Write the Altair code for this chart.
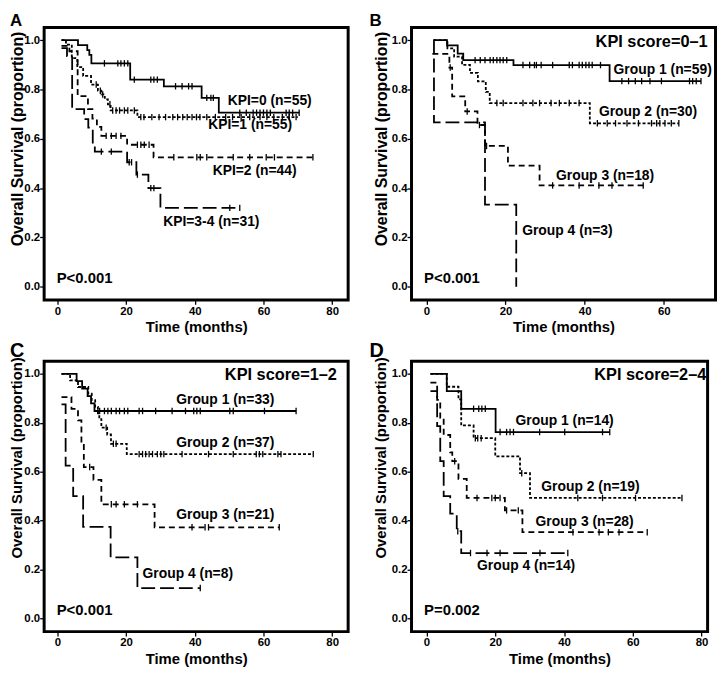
import altair as alt
import pandas as pd

FONT = "Liberation Sans"

# ---------------- Panel A ----------------
A_NAMES = ["KPI=0", "KPI=1", "KPI=2", "KPI=3-4"]
A1_T = [1.2, 6.0, 8.7, 9.3, 9.9, 21.2, 31, 42, 47, 70.4]
A1_S = [1.0, 0.98, 0.96, 0.94, 0.906, 0.84, 0.813, 0.766, 0.706, 0.706]
A1_C = [13.7, 17.6, 18.5, 19.5, 20.5, 22.4, 27.2, 28.1, 29.1, 34.4, 36.3, 38.2,
        39.2, 43.5, 44.7, 45.4, 53.1, 55, 57, 58, 59, 60, 61, 62, 66.6, 67.5, 68.5, 70.4]
A2_T = [1.2, 2.5, 4.2, 5.8, 7.5, 9.8, 11.8, 12.8, 13.8, 14.7, 15.5, 23.3, 70]
A2_S = [1.0, 0.982, 0.927, 0.891, 0.855, 0.82, 0.795, 0.78, 0.76, 0.74, 0.715, 0.688, 0.688]
A2_C = [11.3, 12.5, 13.2, 15.3, 16.1, 17.1, 18.1, 19.5, 20.5, 22.4, 24.3, 25.2, 27.5, 29.6,
        31.5, 33.6, 35, 36.5, 37.8, 39.2, 40.5, 41.5, 43.5, 46, 49, 51, 53.5, 56, 59, 61, 63,
        65.5, 67.5, 69.5]
A3_T = [1.2, 3.5, 5.9, 8.9, 10.2, 11.5, 12.8, 20.3, 28, 74.4]
A3_S = [0.977, 0.955, 0.773, 0.72, 0.682, 0.648, 0.612, 0.576, 0.525, 0.525]
A3_C = [14.2, 15.7, 17.1, 18.5, 23.3, 24.3, 25.3, 26.7, 33.9, 40.6, 41.6, 43.5, 51.2, 56,
        60.8, 63.2, 74.4]
A4_T = [1.2, 2.8, 4.3, 7.8, 9.0, 10.3, 10.9, 20.3, 23, 26.5, 30, 53.1]
A4_S = [0.968, 0.935, 0.72, 0.68, 0.645, 0.58, 0.548, 0.505, 0.455, 0.40, 0.32, 0.32]
A4_C = [12.8, 15.7, 20.9, 21.6, 23.3, 27.2, 28.1, 50.2, 53.1]
A_LAB = ["KPI=0 (n=55)", "KPI=1 (n=55)", "KPI=2 (n=44)", "KPI=3-4 (n=31)"]
A_LAB_X = [49.6, 43.9, 45.2, 30.8]
A_LAB_Y = [0.752, 0.655, 0.468, 0.262]

# ---------------- Panel B ----------------
B_NAMES = ["Group 1", "Group 2", "Group 3", "Group 4"]
B1_T = [1.8, 5.2, 7.9, 9.3, 22.0, 46.3, 69.4]
B1_S = [1.0, 0.979, 0.945, 0.919, 0.899, 0.834, 0.834]
B1_C = [12.3, 13.6, 14.8, 16.1, 16.9, 17.8, 18.6, 19.4, 20.3, 24.4, 26.1, 27.3, 27.8, 29,
        31.9, 36.1, 36.9, 38.6, 39.4, 40.3, 41.1, 41.9, 44, 49.4, 51.1, 52.8, 54.4, 56.5,
        59.4, 66.5, 67.3, 68.2, 69.4]
B2_T = [1.8, 5.3, 7, 9, 11, 13, 15, 16, 41.3, 63.8]
B2_S = [1.0, 0.967, 0.933, 0.9, 0.867, 0.833, 0.79, 0.745, 0.663, 0.663]
B2_C = [17.8, 19.4, 24.4, 26.9, 28.6, 31.5, 33.6, 36.1, 38.6, 43.2, 45.7, 47.8, 50.7, 53.6,
        56.9, 58.2, 59, 60.3, 61.9, 63.8]
B3_T = [1.5, 5.8, 6.5, 9.8, 12.9, 14.8, 20.6, 28.6, 54.8]
B3_S = [0.944, 0.889, 0.772, 0.711, 0.656, 0.571, 0.491, 0.411, 0.411]
B3_C = [6.0, 10.3, 13.4, 15.2, 31.9, 38.6, 43.6, 46.9, 54.8]
B4_T = [1.8, 1.9, 14.8, 22.7]
B4_S = [1.0, 0.667, 0.333, 0.0]
B4_C = []
B_LAB = ["Group 1 (n=59)", "Group 2 (n=30)", "Group 3 (n=18)", "Group 4 (n=3)"]
B_LAB_X = [47.3, 43.6, 32.75, 24.2]
B_LAB_Y = [0.879, 0.708, 0.448, 0.228]

# ---------------- Panel C ----------------
C1_T = [1.2, 5.6, 7.2, 8.8, 9.8, 10.8, 69.5]
C1_S = [1.0, 0.97, 0.939, 0.909, 0.879, 0.848, 0.848]
C1_C = [12.3, 13.7, 14.7, 15.7, 17.1, 18.1, 19.5, 20.5, 23.8, 24.8, 28.6, 33.4, 37.3, 39.7,
        40.6, 41.6, 50.2, 51.2, 60.3, 69.5]
C2_T = [1.2, 3.7, 6, 9, 10, 11, 11.8, 12.2, 12.8, 14.5, 15.6, 20.2, 74.5]
C2_S = [1.0, 0.973, 0.946, 0.919, 0.892, 0.865, 0.838, 0.815, 0.78, 0.752, 0.714, 0.672, 0.672]
C2_C = [14.2, 16.3, 17.1, 23.8, 24.8, 25.7, 26.7, 27.7, 29.1, 30.1, 31, 36.3, 44, 51.2,
        57.9, 58.8, 59.8, 64.2, 65.1, 74.5]
C3_T = [1.2, 4.1, 6.0, 7.0, 7.7, 10.5, 12.8, 28.3, 64.6]
C3_S = [0.905, 0.857, 0.81, 0.714, 0.619, 0.567, 0.467, 0.373, 0.373]
C3_C = [9.4, 15.7, 17.1, 19.5, 23.3, 39.2, 43, 44, 64.6]
C4_T = [1.2, 2.4, 4.6, 7.5, 15.5, 23.3, 41.6]
C4_S = [0.875, 0.625, 0.5, 0.375, 0.25, 0.125, 0.125]
C4_C = [41.6]
C_LAB = ["Group 1 (n=33)", "Group 2 (n=37)", "Group 3 (n=21)", "Group 4 (n=8)"]
C_LAB_X = [34.6, 34.6, 34.6, 24.8]
C_LAB_Y = [0.892, 0.718, 0.424, 0.182]

# ---------------- Panel D ----------------
D1_T = [1.15, 5.9, 10.1, 20.1, 53.3]
D1_S = [1.0, 0.929, 0.857, 0.762, 0.762]
D1_C = [13.7, 15.2, 16.1, 17.1, 21.4, 23.3, 24.3, 25.3, 32.9, 40.2, 51.2, 53.3]
D2_T = [1.15, 5.9, 9.3, 10.1, 13.7, 20, 27.2, 30.1, 74.3]
D2_S = [1.0, 0.947, 0.895, 0.789, 0.737, 0.663, 0.594, 0.493, 0.493]
D2_C = [14.2, 14.9, 15.9, 27.7, 44, 51.2, 60.8, 74.3]
D3_T = [1.15, 3.1, 4.0, 5.0, 6.9, 7.5, 9.3, 11.7, 22.8, 27.9, 64.2]
D3_S = [0.964, 0.893, 0.821, 0.75, 0.679, 0.643, 0.571, 0.493, 0.442, 0.353, 0.353]
D3_C = [8.2, 14.7, 19.0, 20.0, 21.4, 23.3, 26.7, 42.6, 50.2, 52.9, 56, 64.2]
D4_T = [1.15, 3.1, 4.0, 5.0, 6.9, 8.8, 10.1, 41.1]
D4_S = [0.929, 0.786, 0.643, 0.5, 0.429, 0.357, 0.268, 0.268]
D4_C = [9.1, 12.8, 17.6, 21.4, 33, 41.1]
D_LAB = ["Group 1 (n=14)", "Group 2 (n=19)", "Group 3 (n=28)", "Group 4 (n=14)"]
D_LAB_X = [25.9, 33.4, 31.7, 14.7]
D_LAB_Y = [0.806, 0.537, 0.396, 0.215]

HEADINGS = {"A": "", "B": "KPI score=0\u20131", "C": "KPI score=1\u20132", "D": "KPI score=2\u20134"}
HEADING_X = {"A": 0, "B": 71.1, "C": 81.4, "D": 81.4}
PVALUES = {"A": "P<0.001", "B": "P<0.001", "C": "P<0.001", "D": "P=0.002"}
PVALUE_X = {"A": -0.2, "B": -0.6, "C": -0.2, "D": -0.7}

DASHES = [[1, 0], [3, 2], [6, 4], [14, 5]]
Y_DOMAIN = [-0.055, 1.053]


def curve_df(names, Ts, Ss):
    rows = []
    for n, T, S in zip(names, Ts, Ss):
        for t, s in zip(T, S):
            rows.append({"grp": n, "t": t, "s": s})
    return pd.DataFrame(rows)


def censor_df(names, Ts, Ss, Cs):
    rows = []
    for n, T, S, C in zip(names, Ts, Ss, Cs):
        for c in C:
            v = S[0]
            for t, s in zip(T, S):
                if t <= c:
                    v = s
            rows.append({"grp": n, "t": c, "s": v})
    return pd.DataFrame(rows, columns=["grp", "t", "s"])


def panel(letter, names, Ts, Ss, Cs, labs, lx, ly, xdom, xticks, width, height,
          ytitle_size, ytitle_x, ytitle_y, letter_size, letter_x, letter_y):
    cdf = curve_df(names, Ts, Ss)
    sdf = censor_df(names, Ts, Ss, Cs)
    ldf = pd.DataFrame({"t": lx, "s": ly, "lab": labs})
    x = alt.X("t:Q", scale=alt.Scale(domain=xdom, nice=False, zero=False),
              axis=alt.Axis(values=xticks, title="Time (months)", labelFontSize=11.5,
                            labelPadding=1, titlePadding=3, titleFontSize=15))
    y = alt.Y("s:Q", scale=alt.Scale(domain=Y_DOMAIN, nice=False, zero=False),
              axis=alt.Axis(values=[0, 0.2, 0.4, 0.6, 0.8, 1.0], format=".1f", labelFontSize=11.5,
                            labelPadding=0,
                            title="Overall Survival (proportion)", titleFontSize=ytitle_size,
                            titleX=ytitle_x, titleY=ytitle_y, titleAngle=270,
                            titleBaseline="bottom", titleAlign="center"))
    # plot frame as four thin filled bands along the edges of the scale domains
    x0, x1 = xdom
    y0, y1 = Y_DOMAIN
    dx = (x1 - x0) * 2.0 / width
    dy = (y1 - y0) * 2.0 / height
    fdf = pd.DataFrame({
        "t": [x0, x1 - dx, x0, x0],
        "t2": [x0 + dx, x1, x1, x1],
        "s": [y0, y0, y0, y1 - dy],
        "s2": [y1, y1, y0 + dy, y1],
    })
    frame = alt.Chart(fdf).mark_rect(color="black", opacity=1).encode(
        x=x, x2="t2:Q", y=y, y2="s2:Q")
    lines = alt.Chart(cdf).mark_line(interpolate="step-after", color="black", strokeWidth=1.8).encode(
        x="t:Q", y="s:Q",
        strokeDash=alt.StrokeDash("grp:N", scale=alt.Scale(domain=names, range=DASHES), legend=None),
    )
    layers = [frame, lines]
    if len(sdf):
        layers.append(alt.Chart(sdf).mark_point(shape="M0,-1L0,1", size=42, color="black",
                                                 strokeWidth=1.3, opacity=1).encode(x="t:Q", y="s:Q"))
    layers.append(alt.Chart(ldf).mark_text(align="left", baseline="middle", font=FONT,
                                           fontWeight="bold", fontSize=14, color="black").encode(
        x="t:Q", y="s:Q", text="lab:N"))
    pdf = pd.DataFrame({"t": [PVALUE_X[letter]], "s": [0.035], "lab": [PVALUES[letter]]})
    layers.append(alt.Chart(pdf).mark_text(align="left", baseline="middle", font=FONT,
                                           fontWeight="bold", fontSize=15, color="black").encode(
        x="t:Q", y="s:Q", text="lab:N"))
    if HEADINGS[letter]:
        hdf = pd.DataFrame({"t": [HEADING_X[letter]], "s": [0.993], "lab": [HEADINGS[letter]]})
        layers.append(alt.Chart(hdf).mark_text(align="right", baseline="middle", font=FONT,
                                               fontWeight="bold", fontSize=16.5, color="black").encode(
            x="t:Q", y="s:Q", text="lab:N"))
    tdf = pd.DataFrame({"lab": [letter]})
    layers.append(alt.Chart(tdf).mark_text(align="left", baseline="top", font=FONT,
                                           fontWeight="bold", fontSize=letter_size, color="black").encode(
        x=alt.value(letter_x), y=alt.value(letter_y), text="lab:N"))
    return alt.layer(*layers).properties(width=width, height=height)


pA = panel("A", A_NAMES, [A1_T, A2_T, A3_T, A4_T], [A1_S, A2_S, A3_S, A4_S],
           [A1_C, A2_C, A3_C, A4_C], A_LAB, A_LAB_X, A_LAB_Y, [-4, 84.8], [0, 20, 40, 60, 80],
           308, 276, 16, -18, 112.5, 17, -34, -14)
pB = panel("B", B_NAMES, [B1_T, B2_T, B3_T, B4_T], [B1_S, B2_S, B3_S, B4_S],
           [B1_C, B2_C, B3_C, B4_C], B_LAB, B_LAB_X, B_LAB_Y, [-3.9, 73.2], [0, 20, 40, 60],
           308, 276, 16, -21.5, 112.5, 17, -42, -14)
pC = panel("C", B_NAMES, [C1_T, C2_T, C3_T, C4_T], [C1_S, C2_S, C3_S, C4_S],
           [C1_C, C2_C, C3_C, C4_C], C_LAB, C_LAB_X, C_LAB_Y, [-4, 84.8], [0, 20, 40, 60, 80],
           308, 274, 15, -19, 97.5, 20, -34, -20)
pD = panel("D", B_NAMES, [D1_T, D2_T, D3_T, D4_T], [D1_S, D2_S, D3_S, D4_S],
           [D1_C, D2_C, D3_C, D4_C], D_LAB, D_LAB_X, D_LAB_Y, [-4.5, 81.9], [0, 20, 40, 60, 80],
           300, 274, 15, -22.5, 97.5, 20, -42, -20)

chart = alt.vconcat(
    alt.hconcat(pA, pB, spacing=19),
    alt.hconcat(pC, pD, spacing=19),
    spacing=4,
).properties(padding={"left": 0, "top": 0, "right": 0, "bottom": 0}).configure_view(
    stroke="black", strokeWidth=2
).configure_axis(
    domain=False, grid=False, tickColor="black", tickSize=4, tickWidth=1.3,
    labelFont=FONT, labelFontWeight="bold", labelColor="black",
    titleFont=FONT, titleFontWeight="bold", titleColor="black",
)

chart.save("out.html", embed_options={"renderer": "svg", "actions": False})
